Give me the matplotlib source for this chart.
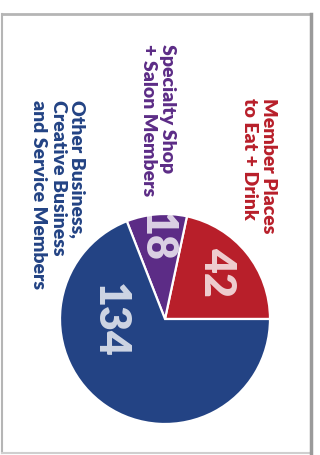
import matplotlib.pyplot as plt
from matplotlib.lines import Line2D

categories = ["Member Places\nto Eat + Drink",
              "Specialty Shop\n+ Salon Members",
              "Other Business,\nCreative Business\nand Service Members"]
counts = [42, 18, 134]
colors = ["#b81f2a", "#5c2c86", "#234384"]

W, H = 320, 455
fig = plt.figure(figsize=(W / 100, H / 100), dpi=100)
ax = fig.add_axes([0, 0, 1, 1])

# pie in pixel-like coords, y measured from the bottom
cx, cy, r = 165, H - 319, 105
ax.pie(counts, colors=colors, startangle=0, counterclock=True,
       center=(cx, cy), radius=r, frame=True,
       wedgeprops=dict(edgecolor="white", linewidth=1.6))
ax.set_xlim(0, W)
ax.set_ylim(0, H)
ax.set_aspect("equal")
ax.axis("off")

fam = ["Lato", "DejaVu Sans"]

# counts inside the slices
num_pos = [(217, 272), (157, 237), (110, 320)]
for n, (x, y) in zip(counts, num_pos):
    ax.text(x, H - y, str(n), rotation=-90, ha="center", va="center",
            fontsize=31, fontweight="heavy", family=fam,
            color="white", alpha=0.78)

# category labels, rotated to read downwards
lab_pos = [(259, 166), (158, 120), (58, 195)]
for lab, c, (x, y) in zip(categories, colors, lab_pos):
    ax.text(x, H - y, lab, rotation=-90, ha="center", va="center",
            multialignment="left", fontsize=14, fontweight="heavy",
            family=fam, color=c, linespacing=1.15)

# thin gray frame
fig.add_artist(Line2D([2 / W, 311 / W], [1 - 14 / H, 1 - 14 / H],
                      transform=fig.transFigure, color="#b5b5b5", lw=2))
fig.add_artist(Line2D([2 / W, 2 / W], [1 - 14 / H, 1 - 453 / H],
                      transform=fig.transFigure, color="#b5b5b5", lw=1.5))
fig.add_artist(Line2D([2 / W, 311 / W], [1 - 453 / H, 1 - 453 / H],
                      transform=fig.transFigure, color="#cfcfcf", lw=1.5))
fig.add_artist(Line2D([311 / W, 311 / W], [1 - 14 / H, 1 - 453 / H],
                      transform=fig.transFigure, color="#9a9a9a", lw=2.5))

fig.savefig("out.png", dpi=100)
